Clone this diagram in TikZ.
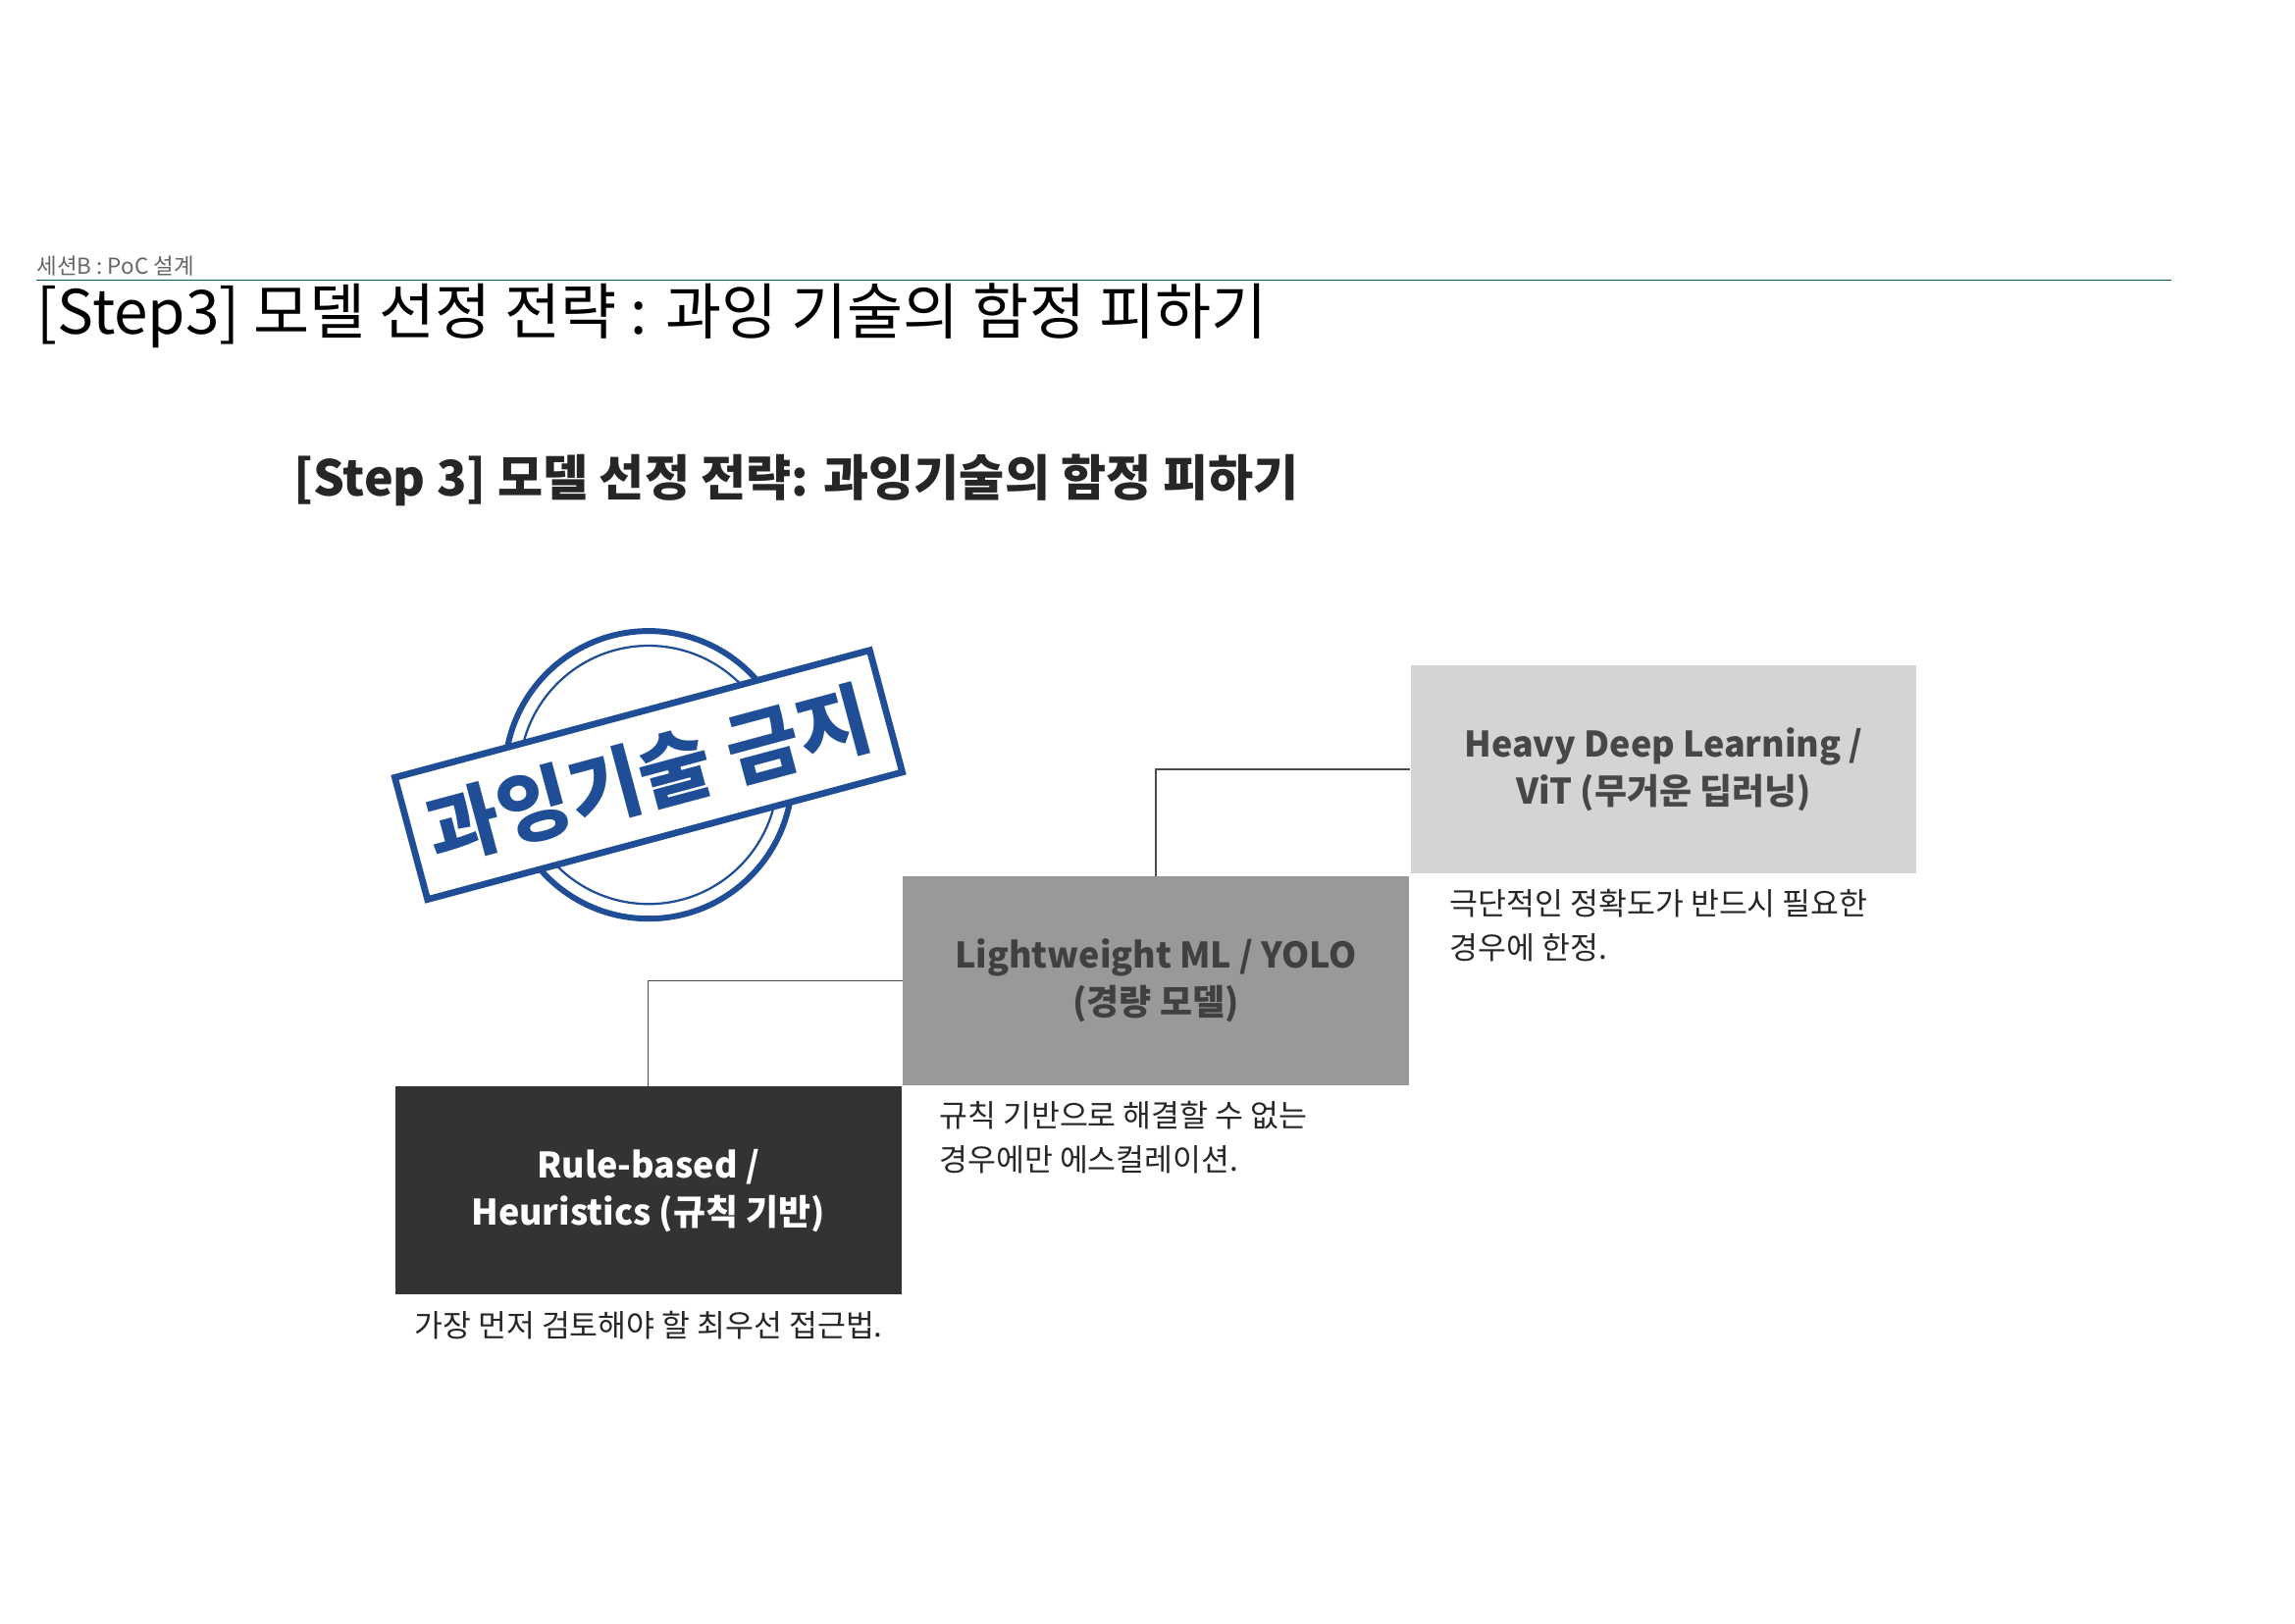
\documentclass[tikz,border=0pt]{standalone}
\usepackage{fontspec}
\setmainfont{Noto Sans CJK KR}
\begin{document}
\begin{tikzpicture}[x=1pt,y=-1pt,
  stepbox/.style={draw=none,minimum width=345pt,minimum height=142pt,inner sep=0pt,align=center,font=\fontsize{24}{32}\selectfont\bfseries},
  caption/.style={font=\fontsize{21}{30}\selectfont,text=black!85,align=left,inner sep=0pt},
  conn/.style={draw=black!70,line width=1pt}]
\useasboundingbox (0,0) rectangle (1564,1106);
\definecolor{stampblue}{HTML}{1F4E96}
\node[anchor=south west,inner sep=0pt,font=\fontsize{15}{17}\selectfont,text=black!60] (sub) at (25,188) {세션B : PoC 설계};
\coordinate (l1) at (25,191); \coordinate (l2) at (1480,191);
\draw[draw=teal!70!black,line width=0.6pt] (l1) -- (l2);
\node[anchor=base west,inner sep=0pt,font=\fontsize{41.5}{44}\selectfont] (title) at (25,228) {[Step3] 모델 선정 전략 : 과잉 기술의 함정 피하기};
\node[anchor=west,inner sep=0pt,font=\fontsize{33.5}{38}\selectfont\bfseries,text=black!85] (head) at (200,327) {[Step 3] 모델 선정 전략: 과잉기술의 함정 피하기};
% boxes
\node[stepbox,fill=black!80,text=white,anchor=north west] (b1) at (269,740) {Rule-based /\\Heuristics (규칙 기반)};
\node[stepbox,fill=black!40,text=black!75,anchor=north west] (b2) at (615,597) {Lightweight ML / YOLO\\(경량 모델)};
\node[stepbox,fill=black!17,text=black!72,anchor=north west] (b3) at (961,453) {Heavy Deep Learning /\\ViT (무거운 딥러닝)};
\draw[conn] (b1.north) |- (b2.west);
\draw[conn] (b2.north) |- (b3.west);
% captions
\node[caption,anchor=north] (c1) at (442,893) {가장 먼저 검토해야 할 최우선 접근법.};
\node[caption,anchor=north west] (c2) at (640,750) {규칙 기반으로 해결할 수 없는\\경우에만 에스컬레이션.};
\node[caption,anchor=north west] (c3) at (988,606) {극단적인 정확도가 반드시 필요한\\경우에 한정.};
% stamp
\coordinate (sc) at (442,528);
\draw[stampblue,line width=4pt] (sc) circle (98);
\draw[stampblue,line width=1.5pt] (sc) circle (88);
\node[draw=stampblue,line width=4.5pt,fill=white,rotate=15,minimum width=335pt,minimum height=86pt,inner sep=0pt,text=stampblue,font=\fontsize{54}{60}\selectfont\bfseries] (stamp) at (sc) {과잉기술 금지};
\end{tikzpicture}
\end{document}
